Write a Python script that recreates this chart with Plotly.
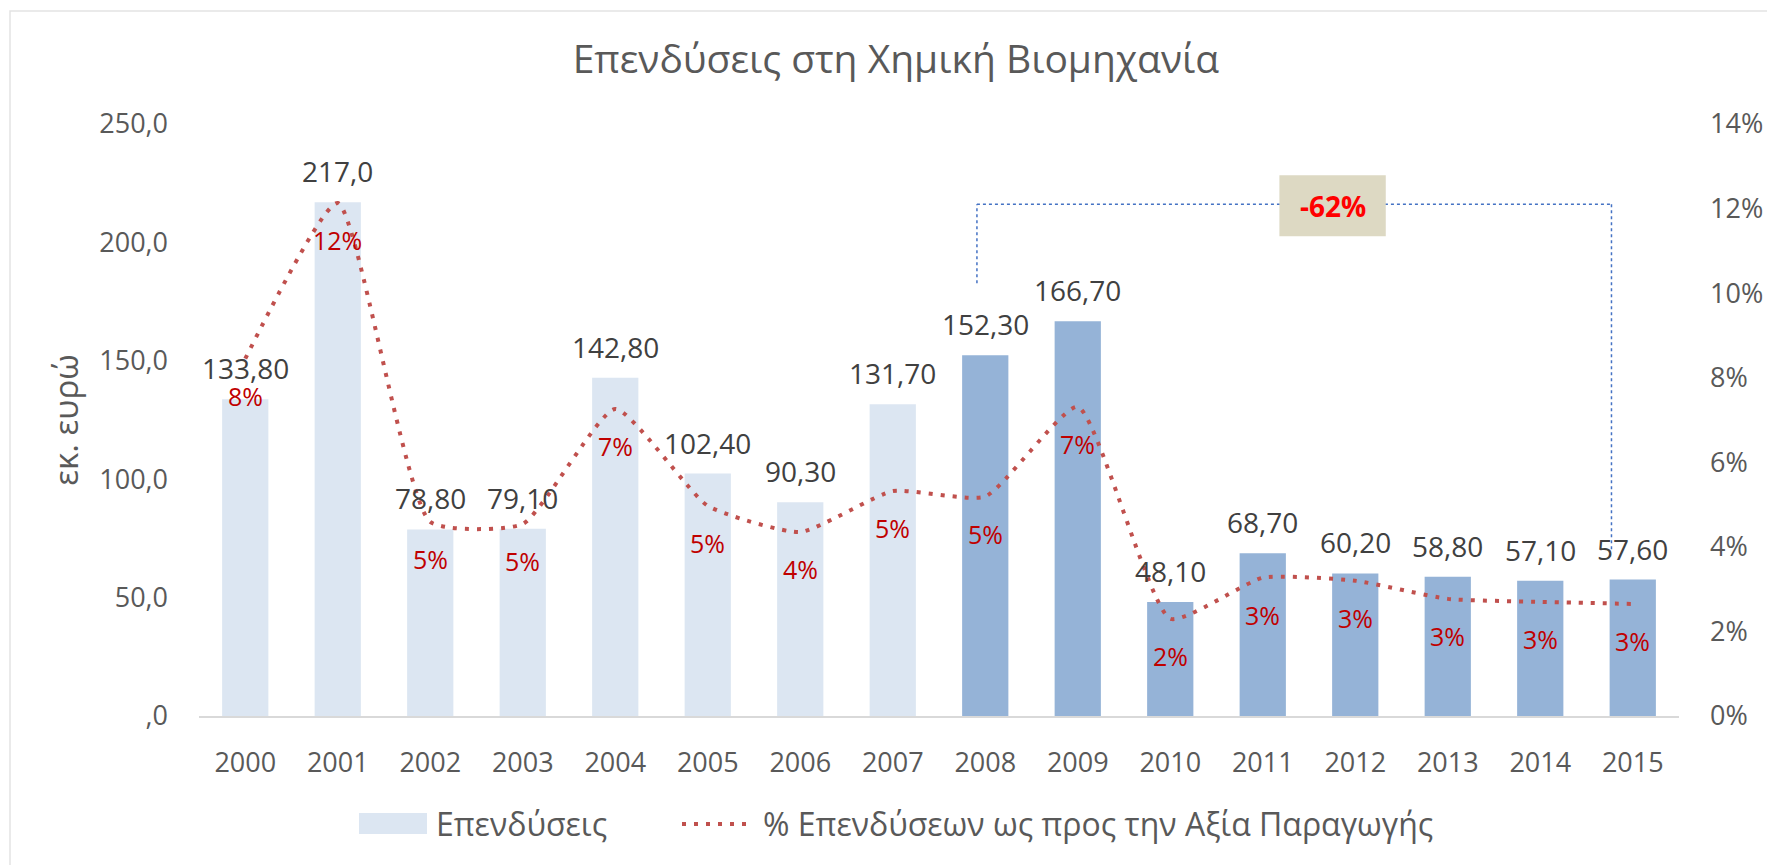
import plotly.graph_objects as go

# ---------------- data ----------------
years = [2000, 2001, 2002, 2003, 2004, 2005, 2006, 2007,
         2008, 2009, 2010, 2011, 2012, 2013, 2014, 2015]
investments = [133.8, 217.0, 78.8, 79.1, 142.8, 102.4, 90.3, 131.7,
               152.3, 166.7, 48.1, 68.7, 60.2, 58.8, 57.1, 57.6]
investment_labels = ["133,80", "217,0", "78,80", "79,10", "142,80", "102,40", "90,30", "131,70",
                     "152,30", "166,70", "48,10", "68,70", "60,20", "58,80", "57,10", "57,60"]
share_of_production = [0.0845, 0.1213, 0.0459, 0.0454, 0.0726, 0.0497, 0.0435, 0.0532,
                       0.0519, 0.0731, 0.0230, 0.0327, 0.0320, 0.0277, 0.0270, 0.0265]
left_tickvals = [0, 50, 100, 150, 200, 250]
left_ticktext = [",0", "50,0", "100,0", "150,0", "200,0", "250,0"]
right_tickvals = [0, 0.02, 0.04, 0.06, 0.08, 0.10, 0.12, 0.14]

TITLE = "Επενδύσεις στη Χημική Βιομηχανία"
BAR_NAME = "Επενδύσεις"
LINE_NAME = "% Επενδύσεων ως προς την Αξία Παραγωγής"
Y_TITLE = "εκ. ευρώ"

# ---------------- style ----------------
FONT = "Open Sans, Noto Sans, DejaVu Sans, sans-serif"
LIGHT = "#DCE6F2"
DARK = "#95B3D7"
LINE_RED = "#C0504D"
LABEL_RED = "#C00000"
GREY = "#595959"
DARKGREY = "#404040"
LINE_DASH = "4px,8px"

W, H = 1767, 865
ML, MR, MT, MB = 199, 88, 124, 149
PW, PH = W - ML - MR, H - MT - MB


def px(x):  # pixel x -> paper x
    return (x - ML) / PW


def py(y):  # pixel y -> paper y
    return (H - MB - y) / PH


bar_colors = [DARK if y >= 2008 else LIGHT for y in years]

fig = go.Figure()
fig.add_trace(go.Bar(
    x=years, y=investments, name=BAR_NAME, showlegend=False,
    marker=dict(color=bar_colors, line=dict(width=0)),
    width=0.5,
))
fig.add_trace(go.Scatter(
    x=years, y=share_of_production, name=LINE_NAME, yaxis="y2", showlegend=False,
    mode="lines", line=dict(color=LINE_RED, width=4, dash=LINE_DASH, shape="spline", smoothing=0.5),
    cliponaxis=False,
))

annotations = []
for yr, v, lab in zip(years, investments, investment_labels):
    annotations.append(dict(x=yr, y=v, xref="x", yref="y", text=lab, showarrow=False,
                            yanchor="middle", yshift=31,
                            font=dict(family=FONT, size=28, color=DARKGREY)))
for yr, p in zip(years, share_of_production):
    annotations.append(dict(x=yr, y=p, xref="x", yref="y2", text=f"{round(p * 100)}%", showarrow=False,
                            yanchor="middle", yshift=-37,
                            font=dict(family=FONT, size=25, color=LABEL_RED)))

# bracket 2008 -> 2015 with change box
i0, i1 = years.index(2008), years.index(2015)
change = (investments[i1] - investments[i0]) / investments[i0]
bx0, bx1 = years[i0] - 0.09, years[i1] - 0.23
by_top, by_left, by_right = 216.1, 182.8, 69.2
bracket = dict(color="#4472C4", width=1.5, dash="dot")
shapes = [
    dict(type="line", xref="x", yref="y", x0=bx0, x1=bx0, y0=by_left, y1=by_top, line=bracket),
    dict(type="line", xref="x", yref="y", x0=bx0, x1=bx1, y0=by_top, y1=by_top, line=bracket),
    dict(type="line", xref="x", yref="y", x0=bx1, x1=bx1, y0=by_top, y1=by_right, line=bracket),
    dict(type="rect", xref="x", yref="y", x0=2011.18, x1=2012.33, y0=202.6, y1=228.4,
         fillcolor="#DDD9C3", line=dict(width=0)),
    # chart border
    dict(type="rect", xref="paper", yref="paper", x0=px(10), x1=px(W + 20), y0=py(H + 20), y1=py(11),
         fillcolor="rgba(0,0,0,0)", line=dict(color="#E3E3E3", width=1.5), layer="below"),
    # legend symbols
    dict(type="rect", xref="paper", yref="paper", x0=px(359), x1=px(427), y0=py(834), y1=py(813),
         fillcolor=LIGHT, line=dict(width=0)),
    dict(type="line", xref="paper", yref="paper", x0=px(682), x1=px(754), y0=py(824), y1=py(824),
         line=dict(color=LINE_RED, width=4, dash=LINE_DASH)),
]
annotations.append(dict(x=2011.755, y=215.5, xref="x", yref="y", text=f"<b>{change:.0%}</b>",
                        showarrow=False, font=dict(family=FONT, size=28, color="#FF0000")))
# legend texts
annotations.append(dict(x=px(434), y=py(823), xref="paper", yref="paper", text=BAR_NAME,
                        showarrow=False, xanchor="left", yanchor="middle",
                        font=dict(family=FONT, size=32, color=GREY)))
annotations.append(dict(x=px(761), y=py(823), xref="paper", yref="paper", text=LINE_NAME,
                        showarrow=False, xanchor="left", yanchor="middle",
                        font=dict(family=FONT, size=32, color=GREY)))

fig.update_layout(
    width=W, height=H,
    margin=dict(l=ML, r=MR, t=MT, b=MB, pad=0, autoexpand=False),
    paper_bgcolor="white", plot_bgcolor="white",
    font=dict(family=FONT, color=GREY),
    showlegend=False,
    title=dict(text=TITLE, x=0.507, xref="container", y=1 - 59 / H, yref="container",
               xanchor="center", yanchor="middle", font=dict(family=FONT, size=39, color=GREY)),
    xaxis=dict(range=[1999.5, 2015.5], tickmode="array", tickvals=years, ticktext=[str(y) for y in years],
               showline=True, linecolor="#D9D9D9", linewidth=2, showgrid=False, zeroline=False,
               automargin=False,
               ticks="", ticklabelstandoff=22, tickfont=dict(family=FONT, size=27, color=GREY)),
    yaxis=dict(range=[0, 250], tickmode="array", tickvals=left_tickvals, ticktext=left_ticktext,
               showgrid=False, zeroline=False, showline=False, ticks="", ticklabelstandoff=30,
               automargin=False,
               tickfont=dict(family=FONT, size=27, color=GREY),
               title=dict(text=Y_TITLE, standoff=10, font=dict(family=FONT, size=33, color=GREY))),
    yaxis2=dict(range=[0, 0.14], overlaying="y", side="right", tickmode="array", tickvals=right_tickvals,
                tickformat=".0%", showgrid=False, zeroline=False, showline=False, ticks="",
                automargin=False,
                ticklabelstandoff=30, tickfont=dict(family=FONT, size=27, color=GREY)),
    bargap=0.5,
    shapes=shapes,
    annotations=annotations,
)

fig.write_html("out.html", config={"displayModeBar": False},
               post_script="document.body.style.margin='0';document.body.style.overflow='hidden';")
